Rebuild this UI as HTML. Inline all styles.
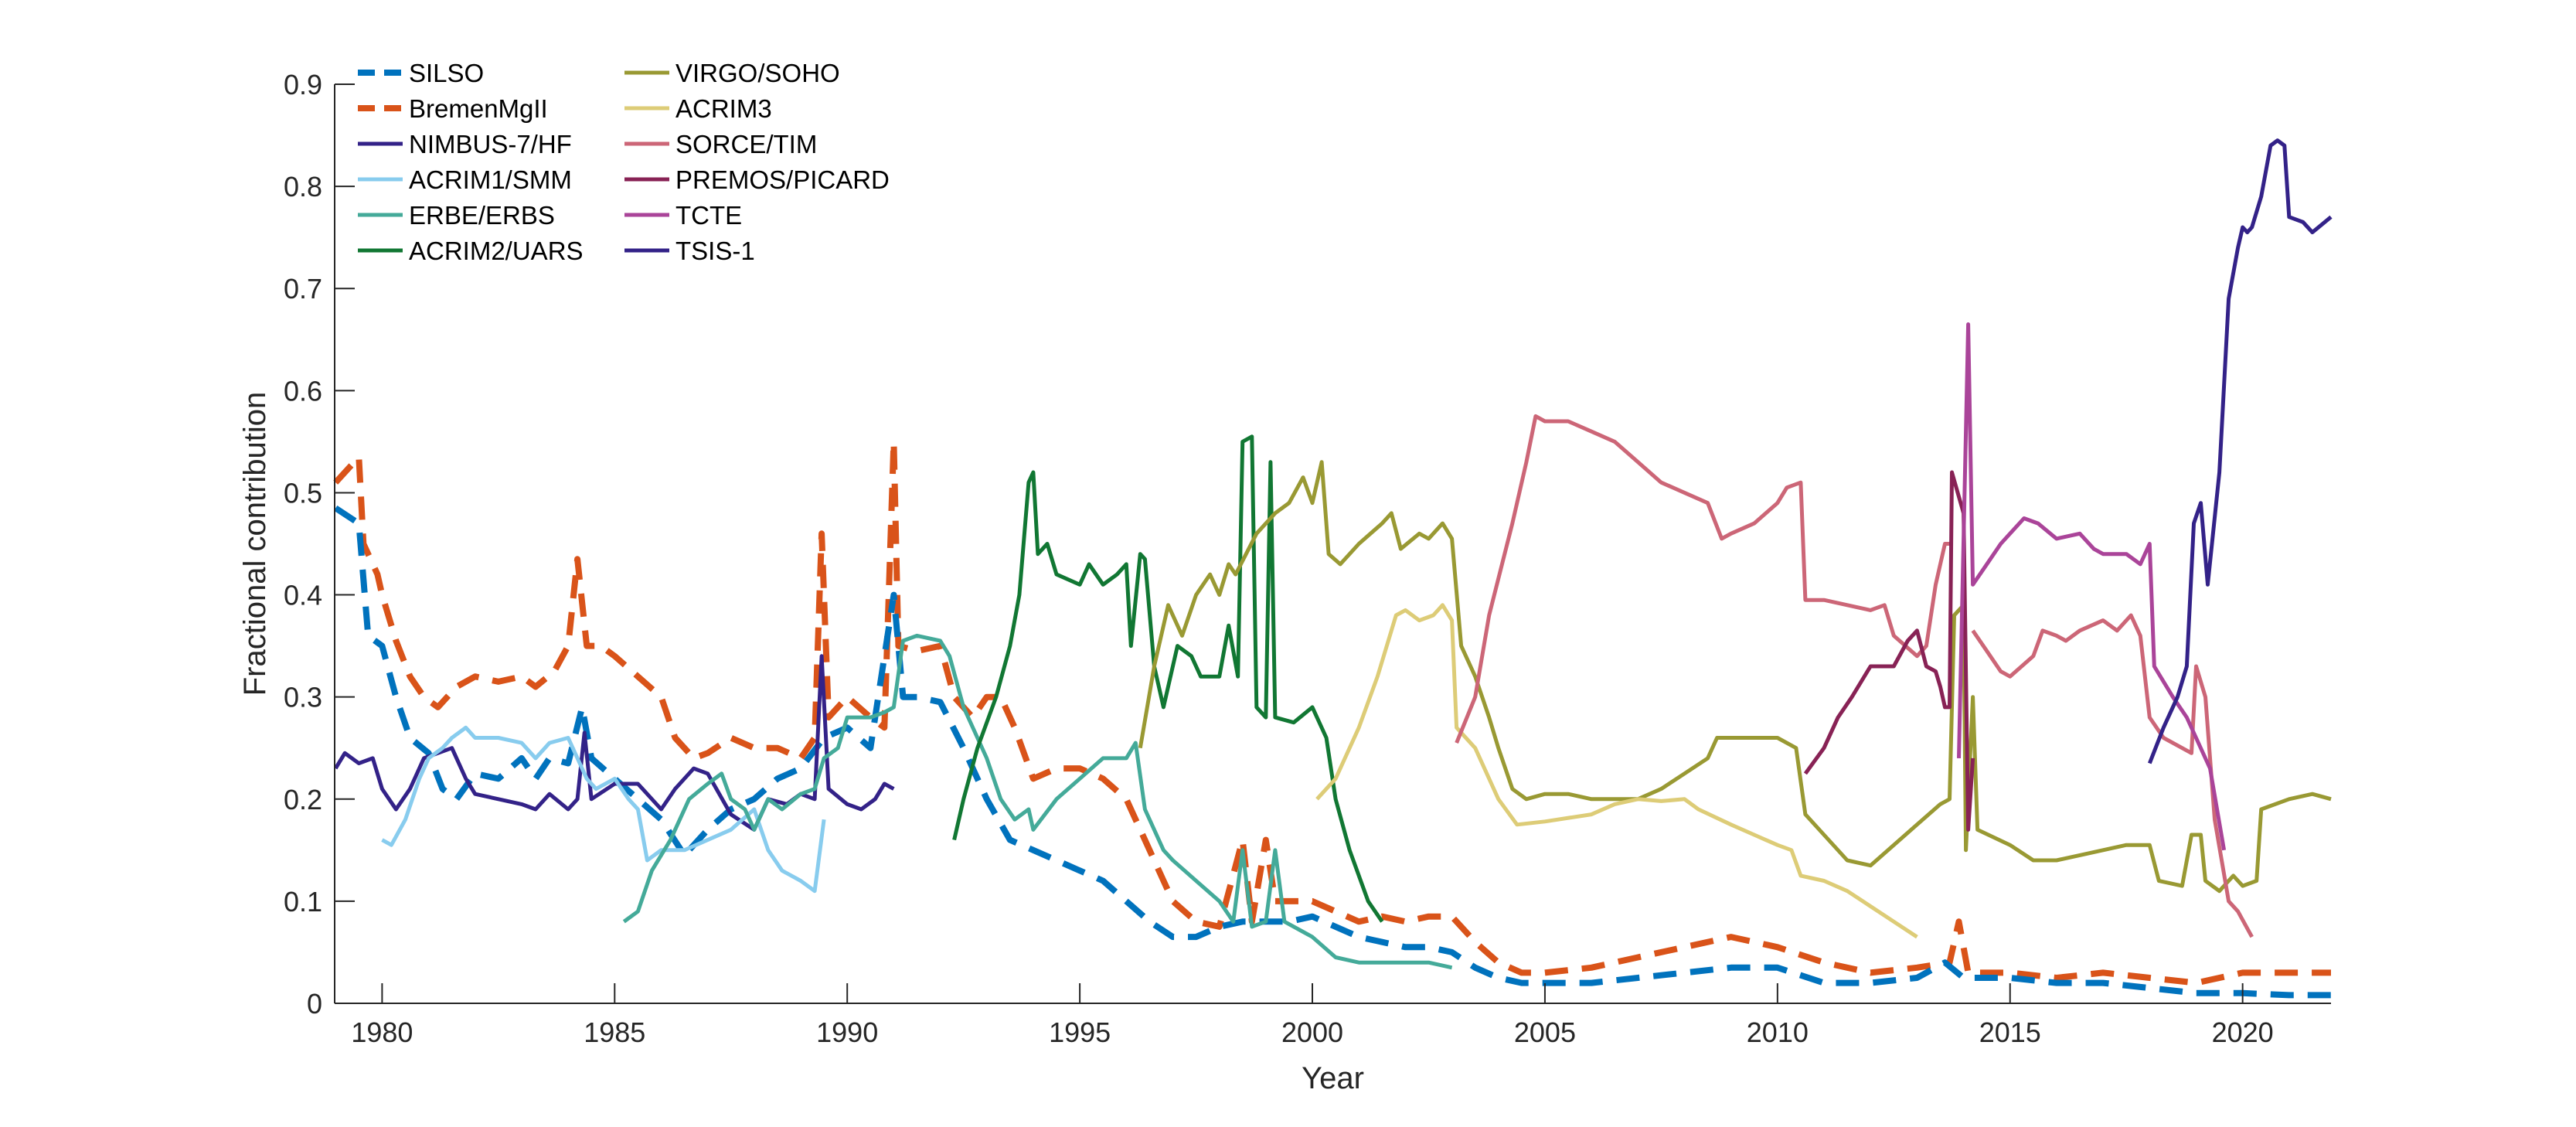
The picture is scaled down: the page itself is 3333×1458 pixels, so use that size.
<!DOCTYPE html>
<html><head><meta charset="utf-8"><style>
html,body{margin:0;padding:0;background:#fff;}
svg{display:block;font-family:"Liberation Sans",Arial,sans-serif;}
</style></head><body>
<svg id="chart" width="3333" height="1458" viewBox="0 0 3333 1458" xmlns="http://www.w3.org/2000/svg">
<rect width="3333" height="1458" fill="#fff"/>
<g id="series"></g>
<g id="axes"></g>
<g id="legend"></g>
</svg>
<script>
const xTicks = [1980,1985,1990,1995,2000,2005,2010,2015,2020];
const yTicks = [0,0.1,0.2,0.3,0.4,0.5,0.6,0.7,0.8,0.9];
const yTickLabels = ["0","0.1","0.2","0.3","0.4","0.5","0.6","0.7","0.8","0.9"];
const seriesNames = ["SILSO","BremenMgII","NIMBUS-7/HF","ACRIM1/SMM","ERBE/ERBS","ACRIM2/UARS","VIRGO/SOHO","ACRIM3","SORCE/TIM","PREMOS/PICARD","TCTE","TSIS-1"];
const silso = [[1979,0.485],[1979.5,0.47],[1979.7,0.36],[1980,0.35],[1980.3,0.3],[1980.6,0.26],[1981,0.245],[1981.3,0.21],[1981.6,0.2],[1982,0.225],[1982.5,0.22],[1983,0.24],[1983.3,0.22],[1983.6,0.24],[1984,0.235],[1984.3,0.29],[1984.5,0.24],[1985,0.22],[1985.5,0.2],[1986,0.18],[1986.5,0.145],[1987,0.17],[1987.5,0.19],[1988,0.2],[1988.5,0.22],[1989,0.23],[1989.5,0.26],[1990,0.27],[1990.5,0.25],[1991,0.4],[1991.2,0.3],[1991.5,0.3],[1992,0.295],[1992.5,0.25],[1993,0.2],[1993.5,0.16],[1994,0.15],[1994.5,0.14],[1995,0.13],[1995.5,0.12],[1996,0.1],[1996.5,0.08],[1997,0.065],[1997.5,0.065],[1998,0.075],[1998.5,0.08],[1999,0.08],[1999.5,0.08],[2000,0.085],[2000.5,0.075],[2001,0.065],[2001.5,0.06],[2002,0.055],[2002.5,0.055],[2003,0.05],[2003.5,0.035],[2004,0.025],[2004.5,0.02],[2005,0.02],[2006,0.02],[2007,0.025],[2008,0.03],[2009,0.035],[2010,0.035],[2011,0.02],[2012,0.02],[2013,0.025],[2013.6,0.04],[2014,0.025],[2015,0.025],[2016,0.02],[2017,0.02],[2018,0.015],[2019,0.01],[2020,0.01],[2021,0.008],[2021.9,0.008]];
const bremen = [[1979,0.51],[1979.5,0.535],[1979.6,0.45],[1979.9,0.42],[1980,0.4],[1980.3,0.355],[1980.6,0.32],[1980.9,0.3],[1981.2,0.29],[1981.6,0.31],[1982,0.32],[1982.5,0.315],[1983,0.32],[1983.3,0.31],[1983.7,0.325],[1984,0.35],[1984.2,0.435],[1984.4,0.35],[1984.7,0.35],[1985,0.34],[1985.5,0.32],[1986,0.3],[1986.3,0.26],[1986.7,0.24],[1987,0.245],[1987.5,0.26],[1988,0.25],[1988.5,0.25],[1989,0.24],[1989.3,0.26],[1989.45,0.46],[1989.6,0.28],[1990,0.3],[1990.5,0.28],[1990.8,0.27],[1991,0.55],[1991.1,0.35],[1991.5,0.345],[1992,0.35],[1992.3,0.3],[1992.7,0.28],[1993,0.3],[1993.3,0.3],[1993.6,0.27],[1994,0.22],[1994.5,0.23],[1995,0.23],[1995.5,0.22],[1996,0.2],[1996.5,0.15],[1997,0.1],[1997.5,0.08],[1998,0.075],[1998.5,0.16],[1998.7,0.08],[1999,0.16],[1999.2,0.1],[1999.5,0.1],[2000,0.1],[2000.5,0.09],[2001,0.08],[2001.5,0.085],[2002,0.08],[2002.5,0.085],[2003,0.085],[2003.5,0.06],[2004,0.04],[2004.5,0.03],[2005,0.03],[2006,0.035],[2007,0.045],[2008,0.055],[2009,0.065],[2010,0.055],[2011,0.04],[2012,0.03],[2013,0.035],[2013.7,0.04],[2013.9,0.08],[2014.1,0.03],[2015,0.03],[2016,0.025],[2017,0.03],[2018,0.025],[2019,0.02],[2020,0.03],[2021,0.03],[2021.9,0.03]];
const nimbus = [[1979,0.23],[1979.2,0.245],[1979.5,0.235],[1979.8,0.24],[1980,0.21],[1980.3,0.19],[1980.6,0.21],[1980.9,0.24],[1981.2,0.245],[1981.5,0.25],[1981.8,0.22],[1982,0.205],[1982.5,0.2],[1983,0.195],[1983.3,0.19],[1983.6,0.205],[1984,0.19],[1984.2,0.2],[1984.35,0.265],[1984.5,0.2],[1985,0.215],[1985.5,0.215],[1986,0.19],[1986.3,0.21],[1986.7,0.23],[1987,0.225],[1987.5,0.185],[1988,0.17],[1988.3,0.2],[1988.7,0.195],[1989,0.205],[1989.3,0.2],[1989.45,0.34],[1989.6,0.21],[1990,0.195],[1990.3,0.19],[1990.6,0.2],[1990.8,0.215],[1991,0.21]];
const acrim1 = [[1980,0.16],[1980.2,0.155],[1980.5,0.18],[1980.8,0.22],[1981,0.24],[1981.3,0.25],[1981.5,0.26],[1981.8,0.27],[1982,0.26],[1982.5,0.26],[1983,0.255],[1983.3,0.24],[1983.6,0.255],[1984,0.26],[1984.2,0.24],[1984.4,0.22],[1984.6,0.21],[1985,0.22],[1985.3,0.2],[1985.5,0.19],[1985.7,0.14],[1986,0.15],[1986.5,0.15],[1987,0.16],[1987.5,0.17],[1988,0.19],[1988.3,0.15],[1988.6,0.13],[1989,0.12],[1989.3,0.11],[1989.5,0.18]];
const erbe = [[1985.2,0.08],[1985.5,0.09],[1985.8,0.13],[1986.2,0.16],[1986.6,0.2],[1987,0.215],[1987.3,0.225],[1987.5,0.2],[1987.8,0.19],[1988,0.17],[1988.3,0.2],[1988.6,0.19],[1989,0.205],[1989.3,0.21],[1989.5,0.24],[1989.8,0.25],[1990,0.28],[1990.5,0.28],[1990.8,0.285],[1991,0.29],[1991.2,0.355],[1991.5,0.36],[1992,0.355],[1992.2,0.34],[1992.5,0.29],[1992.8,0.26],[1993,0.24],[1993.3,0.2],[1993.6,0.18],[1993.9,0.19],[1994,0.17],[1994.5,0.2],[1995,0.22],[1995.5,0.24],[1996,0.24],[1996.2,0.255],[1996.4,0.19],[1996.8,0.15],[1997,0.14],[1997.5,0.12],[1998,0.1],[1998.3,0.08],[1998.5,0.15],[1998.7,0.075],[1999,0.08],[1999.2,0.15],[1999.4,0.08],[1999.8,0.07],[2000,0.065],[2000.5,0.045],[2001,0.04],[2001.5,0.04],[2002,0.04],[2002.5,0.04],[2003,0.035]];
const acrim2 = [[1992.3,0.16],[1992.5,0.2],[1992.8,0.25],[1993.2,0.3],[1993.5,0.35],[1993.7,0.4],[1993.9,0.51],[1994,0.52],[1994.1,0.44],[1994.3,0.45],[1994.5,0.42],[1995,0.41],[1995.2,0.43],[1995.5,0.41],[1995.8,0.42],[1996,0.43],[1996.1,0.35],[1996.3,0.44],[1996.4,0.435],[1996.6,0.33],[1996.8,0.29],[1997.1,0.35],[1997.4,0.34],[1997.6,0.32],[1998,0.32],[1998.2,0.37],[1998.4,0.32],[1998.5,0.55],[1998.7,0.555],[1998.8,0.29],[1999,0.28],[1999.1,0.53],[1999.2,0.28],[1999.6,0.275],[2000,0.29],[2000.3,0.26],[2000.5,0.2],[2000.8,0.15],[2001.2,0.1],[2001.5,0.08]];
const virgo = [[1996.3,0.25],[1996.6,0.33],[1996.9,0.39],[1997.2,0.36],[1997.5,0.4],[1997.8,0.42],[1998,0.4],[1998.2,0.43],[1998.35,0.42],[1998.8,0.46],[1999.2,0.48],[1999.5,0.49],[1999.8,0.515],[2000,0.49],[2000.2,0.53],[2000.35,0.44],[2000.6,0.43],[2001,0.45],[2001.5,0.47],[2001.7,0.48],[2001.9,0.445],[2002.3,0.46],[2002.5,0.455],[2002.8,0.47],[2003,0.455],[2003.2,0.35],[2003.5,0.32],[2003.8,0.28],[2004,0.25],[2004.3,0.21],[2004.6,0.2],[2005,0.205],[2005.5,0.205],[2006,0.2],[2006.5,0.2],[2007,0.2],[2007.5,0.21],[2008,0.225],[2008.5,0.24],[2008.7,0.26],[2009,0.26],[2009.5,0.26],[2010,0.26],[2010.4,0.25],[2010.6,0.185],[2011,0.165],[2011.5,0.14],[2012,0.135],[2012.5,0.155],[2013,0.175],[2013.5,0.195],[2013.7,0.2],[2013.8,0.38],[2014,0.39],[2014.05,0.15],[2014.2,0.3],[2014.3,0.17],[2015,0.155],[2015.5,0.14],[2016,0.14],[2016.5,0.145],[2017,0.15],[2017.5,0.155],[2018,0.155],[2018.2,0.12],[2018.7,0.115],[2018.9,0.165],[2019.1,0.165],[2019.2,0.12],[2019.5,0.11],[2019.8,0.125],[2020,0.115],[2020.3,0.12],[2020.4,0.19],[2021,0.2],[2021.5,0.205],[2021.9,0.2]];
const acrim3 = [[2000.1,0.2],[2000.5,0.22],[2001,0.27],[2001.4,0.32],[2001.8,0.38],[2002,0.385],[2002.3,0.375],[2002.6,0.38],[2002.8,0.39],[2003,0.375],[2003.1,0.27],[2003.5,0.25],[2004,0.2],[2004.4,0.175],[2005,0.178],[2006,0.185],[2006.5,0.195],[2007,0.2],[2007.5,0.198],[2008,0.2],[2008.3,0.19],[2009,0.175],[2009.5,0.165],[2010,0.155],[2010.3,0.15],[2010.5,0.125],[2011,0.12],[2011.5,0.11],[2012,0.095],[2012.5,0.08],[2013,0.065]];
const sorceA = [[2003.1,0.255],[2003.5,0.3],[2003.8,0.38],[2004.3,0.47],[2004.6,0.53],[2004.8,0.575],[2005,0.57],[2005.5,0.57],[2006,0.56],[2006.5,0.55],[2007,0.53],[2007.5,0.51],[2008,0.5],[2008.5,0.49],[2008.8,0.455],[2009,0.46],[2009.5,0.47],[2010,0.49],[2010.2,0.505],[2010.5,0.51],[2010.6,0.395],[2011,0.395],[2011.5,0.39],[2012,0.385],[2012.3,0.39],[2012.5,0.36],[2013,0.34],[2013.2,0.35],[2013.4,0.41],[2013.6,0.45],[2013.7,0.45]];
const sorceB = [[2014.2,0.365],[2014.5,0.345],[2014.8,0.325],[2015,0.32],[2015.5,0.34],[2015.7,0.365],[2016,0.36],[2016.2,0.355],[2016.5,0.365],[2017,0.375],[2017.3,0.365],[2017.6,0.38],[2017.8,0.36],[2018,0.28],[2018.3,0.26],[2018.7,0.25],[2018.9,0.245],[2019,0.33],[2019.2,0.3],[2019.4,0.18],[2019.7,0.1],[2019.9,0.09],[2020.2,0.065]];
const premos = [[2010.6,0.225],[2011,0.25],[2011.3,0.28],[2011.6,0.3],[2012,0.33],[2012.5,0.33],[2012.8,0.355],[2013,0.365],[2013.2,0.33],[2013.4,0.325],[2013.5,0.31],[2013.6,0.29],[2013.7,0.29],[2013.75,0.52],[2014,0.48],[2014.1,0.17],[2014.2,0.24]];
const tcte = [[2013.9,0.24],[2014.1,0.665],[2014.2,0.41],[2014.5,0.43],[2014.8,0.45],[2015,0.46],[2015.3,0.475],[2015.6,0.47],[2016,0.455],[2016.5,0.46],[2016.8,0.445],[2017,0.44],[2017.5,0.44],[2017.8,0.43],[2018,0.45],[2018.1,0.33],[2018.5,0.3],[2018.8,0.28],[2019.3,0.23],[2019.6,0.15]];
const tsis = [[2018,0.235],[2018.3,0.27],[2018.6,0.3],[2018.8,0.33],[2018.95,0.47],[2019.1,0.49],[2019.25,0.41],[2019.5,0.52],[2019.7,0.69],[2019.9,0.74],[2020,0.76],[2020.1,0.755],[2020.2,0.76],[2020.4,0.79],[2020.6,0.84],[2020.75,0.845],[2020.9,0.84],[2021,0.77],[2021.3,0.765],[2021.5,0.755],[2021.9,0.77]];

const NS="http://www.w3.org/2000/svg";
const L=433,R=3016,T=109,B=1298,X0=1978.98,X1=2021.9,Y0=0,Y1=0.9;
function xs(v){return L+(v-X0)/(X1-X0)*(R-L);}
function ys(v){return B-(v-Y0)/(Y1-Y0)*(B-T);}
function mk(tag,attrs,parent){const e=document.createElementNS(NS,tag);for(const k in attrs)e.setAttribute(k,attrs[k]);parent.appendChild(e);return e;}

const sg=document.getElementById('series');
const defs=[
 [bremen,'#D95319',true,'bremenmgii-line'],
 [silso,'#0072BD',true,'silso-line'],
 [nimbus,'#332288',false,'nimbus-7-hf-line'],
 [acrim1,'#88CCEE',false,'acrim1-smm-line'],
 [erbe,'#44AA99',false,'erbe-erbs-line'],
 [acrim2,'#117733',false,'acrim2-uars-line'],
 [virgo,'#999933',false,'virgo-soho-line'],
 [acrim3,'#DDCC77',false,'acrim3-line'],
 [sorceA,'#CC6677',false,'sorce-tim-line-a'],
 [sorceB,'#CC6677',false,'sorce-tim-line-b'],
 [premos,'#882255',false,'premos-picard-line'],
 [tcte,'#AA4499',false,'tcte-line'],
 [tsis,'#332288',false,'tsis-1-line']
];
defs.forEach(d=>{
 const p=mk('path',{d:d[0].map((pt,i)=>(i?'L':'M')+xs(pt[0]).toFixed(1)+' '+ys(pt[1]).toFixed(1)).join(''),fill:'none',stroke:d[1],'stroke-width':d[2]?8:5,'stroke-linejoin':'round'},sg);
 if(d[2])p.setAttribute('stroke-dasharray','30 18');
 
 
});

const ag=document.getElementById('axes');
const xa=mk('line',{x1:L,y1:B,x2:R,y2:B,stroke:'#262626','stroke-width':2},ag);


const ya=mk('line',{x1:L,y1:T,x2:L,y2:B,stroke:'#262626','stroke-width':2},ag);


xTicks.forEach(t=>{
 const x=xs(t);
 const tk=mk('line',{x1:x,y1:B,x2:x,y2:B-26,stroke:'#262626','stroke-width':2},ag);
 
 
 const tx=mk('text',{x:x,y:B+50,'text-anchor':'middle','font-size':36,fill:'#262626'},ag);
 tx.textContent=t;
 
 
});
yTicks.forEach((t,i)=>{
 const y=ys(t);
 const tk=mk('line',{x1:L,y1:y,x2:L+26,y2:y,stroke:'#262626','stroke-width':2},ag);
 
 
 const tx=mk('text',{x:L-16,y:y+13,'text-anchor':'end','font-size':36,fill:'#262626'},ag);
 tx.textContent=yTickLabels[i];
 
 
});
const xl=mk('text',{x:(L+R)/2,y:1408,'text-anchor':'middle','font-size':40,fill:'#262626'},ag);
xl.textContent='Year';


const yl=mk('text',{x:0,y:0,'text-anchor':'middle','font-size':40,fill:'#262626',transform:'translate(343,'+((T+B)/2)+') rotate(-90)'},ag);
yl.textContent='Fractional contribution';



const lg=document.getElementById('legend');
const legColors=['#0072BD','#D95319','#332288','#88CCEE','#44AA99','#117733','#999933','#DDCC77','#CC6677','#882255','#AA4499','#332288'];
seriesNames.forEach((n,i)=>{
 const col=Math.floor(i/6),row=i%6;
 const x=col?808:463,y=94+row*46;
 const g=mk('g',{},lg);
 
 
 const ln=mk('line',{x1:x,y1:y,x2:x+58,y2:y,stroke:legColors[i],'stroke-width':i<2?8:5},g);
 if(i<2)ln.setAttribute('stroke-dasharray','22 12');
 
 
 const tx=mk('text',{x:x+66,y:y+12,'font-size':33,fill:'#000'},g);
 tx.textContent=n;
 
 
});
</script>
</body></html>
